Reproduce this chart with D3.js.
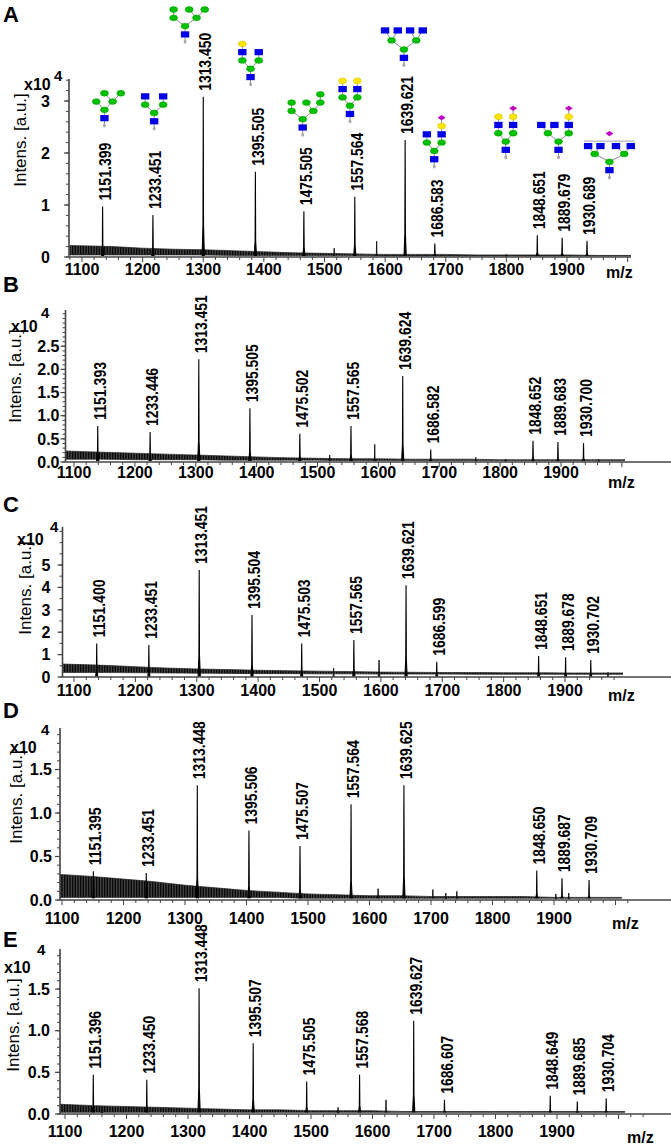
<!DOCTYPE html>
<html>
<head>
<meta charset="utf-8">
<script src="https://cdn.jsdelivr.net/npm/d3@7"></script>
<style>
    body { margin: 0; background: #fff; }
    svg text { font-family: "Liberation Sans", Arial, sans-serif; fill: #000; }
    .peak-label { font-family: "Liberation Sans Narrow", "Arial Narrow", "Liberation Sans", sans-serif; font-size: 17px; font-weight: bold; }
    .tick-label { font-size: 16px; font-weight: bold; }
    .letter { font-size: 22px; font-weight: bold; }
    .ylab { font-size: 17px; }
    .axis line { stroke: #444; }
</style>
</head>
<body>
<svg id="chart" width="671" height="1146"></svg>
<script>
// x tick labels shared by all five spectra
const mzTicks = [1100, 1200, 1300, 1400, 1500, 1600, 1700, 1800, 1900];
// grid for the baseline noise band
const noiseMz = [1080, 1150, 1200, 1250, 1300, 1350, 1400, 1450, 1500, 1550, 1600, 1650, 1700, 1750, 1800, 1850, 1900, 1950, 2010];

// A
const labelsA = ['1151.399', '1233.451', '1313.450', '1395.505', '1475.505', '1557.564', '1639.621', '1686.583', '1848.651', '1889.679', '1930.689'];
const posA = [1134, 1217, 1300, 1386, 1466, 1550, 1633, 1682, 1851, 1892, 1933];
const intA = [0.97, 0.81, 3.08, 1.64, 0.88, 1.16, 2.25, 0.26, 0.42, 0.37, 0.31];
const smallPosA = [1516, 1586, 1800];
const smallIntA = [0.17, 0.3, 0.05];
const noiseHiA = [0.22, 0.2, 0.17, 0.15, 0.14, 0.12, 0.1, 0.08, 0.07, 0.06, 0.05, 0.05, 0.05, 0.04, 0.04, 0.04, 0.04, 0.03, 0.03];
const noiseLoA = [0.04, 0.04, 0.04, 0.04, 0.04, 0.03, 0.03, 0.03, 0.03, 0.03, 0.02, 0.02, 0.02, 0.02, 0.02, 0.02, 0.02, 0.02, 0.02];
const yTicksA = [0, 1, 2, 3];

// B
const labelsB = ['1151.393', '1233.446', '1313.451', '1395.505', '1475.502', '1557.565', '1639.624', '1686.582', '1848.652', '1889.683', '1930.700'];
const posB = [1139, 1225, 1305, 1389, 1471, 1555, 1640, 1686, 1854, 1895, 1937];
const intB = [0.78, 0.65, 2.22, 1.16, 0.61, 0.78, 1.86, 0.27, 0.46, 0.43, 0.41];
const smallPosB = [1520, 1594, 1760, 1809, 1962];
const smallIntB = [0.15, 0.38, 0.1, 0.06, 0.06];
const noiseHiB = [0.24, 0.21, 0.19, 0.17, 0.15, 0.13, 0.11, 0.09, 0.08, 0.07, 0.07, 0.06, 0.06, 0.06, 0.05, 0.05, 0.05, 0.05, 0.05];
const noiseLoB = [0.06, 0.06, 0.05, 0.05, 0.05, 0.04, 0.04, 0.04, 0.04, 0.03, 0.03, 0.03, 0.03, 0.03, 0.03, 0.03, 0.03, 0.03, 0.03];
const yTicksB = [0, 0.5, 1, 1.5, 2, 2.5];

// C
const labelsC = ['1151.400', '1233.451', '1313.451', '1395.504', '1475.503', '1557.565', '1639.621', '1686.599', '1848.651', '1889.678', '1930.702'];
const posC = [1137, 1222, 1304, 1390, 1471, 1556, 1641, 1691, 1857, 1901, 1942];
const intC = [1.5, 1.43, 4.78, 2.77, 1.5, 1.65, 4.1, 0.68, 0.94, 0.88, 0.76];
const smallPosC = [1523, 1597, 1970];
const smallIntC = [0.4, 0.76, 0.2];
const noiseHiC = [0.58, 0.52, 0.46, 0.4, 0.36, 0.33, 0.3, 0.28, 0.26, 0.24, 0.22, 0.21, 0.2, 0.2, 0.19, 0.19, 0.18, 0.18, 0.18];
const noiseLoC = [0.2, 0.2, 0.19, 0.18, 0.17, 0.16, 0.15, 0.15, 0.14, 0.14, 0.13, 0.13, 0.13, 0.12, 0.12, 0.12, 0.12, 0.12, 0.12];
const yTicksC = [0, 1, 2, 3, 4, 5];

// D
const labelsD = ['1151.395', '1233.451', '1313.448', '1395.506', '1475.507', '1557.564', '1639.625', '1848.650', '1889.687', '1930.709'];
const posD = [1151, 1237, 1320, 1404, 1487, 1570, 1656, 1872, 1913, 1957];
const intD = [0.33, 0.31, 1.32, 0.8, 0.62, 1.1, 1.32, 0.34, 0.25, 0.23];
const smallPosD = [1614, 1703, 1724, 1742, 1903, 1924];
const smallIntD = [0.13, 0.12, 0.08, 0.1, 0.07, 0.08];
const noiseHiD = [0.3, 0.27, 0.24, 0.21, 0.17, 0.14, 0.11, 0.09, 0.07, 0.06, 0.05, 0.05, 0.04, 0.04, 0.04, 0.04, 0.03, 0.03, 0.03];
const noiseLoD = [0.03, 0.03, 0.03, 0.03, 0.03, 0.03, 0.03, 0.03, 0.02, 0.02, 0.02, 0.02, 0.02, 0.02, 0.02, 0.02, 0.02, 0.02, 0.02];
const yTicksD = [0, 0.5, 1, 1.5];

// E
const labelsE = ['1151.396', '1233.450', '1313.448', '1395.507', '1475.505', '1557.568', '1639.627', '1686.607', '1848.649', '1889.685', '1930.704'];
const posE = [1146, 1233, 1318, 1406, 1493, 1579, 1667, 1717, 1889, 1933, 1980];
const intE = [0.47, 0.41, 1.51, 0.85, 0.39, 0.47, 1.12, 0.17, 0.22, 0.15, 0.19];
const smallPosE = [1160, 1544, 1622];
const smallIntE = [0.08, 0.08, 0.17];
const noiseHiE = [0.12, 0.1, 0.09, 0.08, 0.07, 0.06, 0.05, 0.05, 0.04, 0.04, 0.04, 0.03, 0.03, 0.03, 0.03, 0.03, 0.03, 0.03, 0.03];
const noiseLoE = [0.02, 0.02, 0.02, 0.02, 0.02, 0.02, 0.02, 0.02, 0.02, 0.02, 0.02, 0.02, 0.02, 0.02, 0.02, 0.02, 0.02, 0.02, 0.02];
const yTicksE = [0, 0.5, 1, 1.5];

// glycan cartoons of panel A: anchor (m/z, intensity) of the core mannose
const glycanMz = [1137, 1219, 1270, 1378, 1464, 1542, 1631, 1681, 1799, 1886, 1970];
const glycanInt = [2.83, 2.77, 4.44, 3.62, 2.65, 2.91, 3.99, 2.04, 2.22, 2.22, 1.83];
// residues: [type, col, row, parent]; R reducing end, G GlcNAc, M Man, L Gal, S NeuAc, K bracket
const stem = [['R', 0, 2, -1], ['G', 0, 1, 0], ['M', 0, 0, 1]];
const glycanShapes = [
    stem.concat([['M', -1, -1, 2], ['M', 1, -1, 2], ['M', 0, -2, 4], ['M', 2, -2, 4]]),
    stem.concat([['M', -1.1, -1, 2], ['M', 1.1, -1, 2], ['G', -1.1, -2, 3], ['G', 1.1, -2, 4]]),
    stem.concat([['M', -1.4, -1, 2], ['M', 1.4, -1, 2], ['M', -1.4, -2, 3], ['M', 0.5, -2, 4], ['M', 2.4, -2, 4]]),
    stem.concat([['M', -1, -1, 2], ['M', 1, -1, 2], ['G', -1, -2, 3], ['G', 1, -2, 4], ['L', -1, -3, 5]]),
    stem.concat([['M', -1.35, -1, 2], ['M', 1.3, -1, 2], ['M', -1.35, -2, 3], ['M', 0.45, -2, 4], ['M', 2.15, -2, 4], ['M', 2.15, -3, 7]]),
    stem.concat([['M', -0.9, -1, 2], ['M', 0.9, -1, 2], ['G', -0.9, -2, 3], ['G', 0.9, -2, 4], ['L', -0.9, -3, 5], ['L', 0.9, -3, 6]]),
    stem.concat([['M', -1.5, -1.1, 2], ['M', 1.5, -1.1, 2], ['G', -2.3, -2.3, 3], ['G', -0.75, -2.3, 3], ['G', 0.75, -2.3, 4], ['G', 2.3, -2.3, 4]]),
    stem.concat([['M', -0.9, -1, 2], ['M', 0.9, -1, 2], ['G', -0.9, -2, 3], ['G', 0.9, -2, 4], ['L', 0.9, -3, 6], ['S', 0.9, -4, 7]]),
    stem.concat([['M', -0.9, -1, 2], ['M', 0.9, -1, 2], ['G', -0.9, -2, 3], ['G', 0.9, -2, 4], ['L', -0.9, -3, 5], ['L', 0.9, -3, 6], ['S', 0.9, -4, 8]]),
    stem.concat([['M', -1.3, -1, 2], ['M', 1.25, -1, 2], ['G', -2.1, -2, 3], ['G', -0.5, -2, 3], ['G', 1.25, -2, 4], ['L', 1.25, -3, 7], ['S', 1.25, -4, 8]]),
    stem.concat([['M', -1.8, -0.95, 2], ['M', 1.8, -0.95, 2], ['G', -2.6, -1.9, 3], ['G', -1.1, -1.9, 3], ['G', 0.8, -1.9, 4], ['G', 2.6, -1.9, 4], ['K', 3.1, -2.5, -1], ['S', 0, -3.4, -1]])
];

// page positions of each spectrum
const layouts = [
    {letter: 'A', letterY: 22, base: 257, unit: 52, top: 79, x1100: 82, x1900: 567, left: 69, tickEnd: 631, lineEnd: 631,
        xLabelY: 275, mzX: 606, mzY: 278, yLabX: 20, yLabY: 140, x10X: 24, x10Y: 90, supX: 54, supY: 81, ytPad: 14, minorY: 0.2, fmt: 'd'},
    {letter: 'B', letterY: 292, base: 462, unit: 46.3, top: 310, x1100: 74, x1900: 561, left: 65.5, tickEnd: 625, lineEnd: 671,
        xLabelY: 478, mzX: 608, mzY: 488, yLabX: 15, yLabY: 376, x10X: 11, x10Y: 332, supX: 41, supY: 318, ytPad: 1, minorY: 0.1, fmt: '.1f'},
    {letter: 'C', letterY: 512, base: 677, unit: 22.4, top: 527, x1100: 74, x1900: 565, left: 62.5, tickEnd: 623, lineEnd: 671,
        xLabelY: 696, mzX: 608, mzY: 701, yLabX: 25, yLabY: 588, x10X: 17, x10Y: 545, supX: 50, supY: 532, ytPad: 7, minorY: 0.5, fmt: 'd'},
    {letter: 'D', letterY: 718, base: 900, unit: 87, top: 728, x1100: 62, x1900: 554, left: 60, tickEnd: 631, lineEnd: 671,
        xLabelY: 924, mzX: 612, mzY: 929, yLabX: 16, yLabY: 797, x10X: 10, x10Y: 753, supX: 41, supY: 735, ytPad: 3, minorY: 0.1, fmt: '.1f'},
    {letter: 'E', letterY: 947, base: 1114, unit: 83.3, top: 949, x1100: 65, x1900: 557, left: 60, tickEnd: 649, lineEnd: 671,
        xLabelY: 1137, mzX: 627, mzY: 1143, yLabX: 13, yLabY: 1025, x10X: 4, x10Y: 973, supX: 37, supY: 955, ytPad: 5, minorY: 0.1, fmt: '.1f'}
];

const spectra = [
    {labels: labelsA, pos: posA, int: intA, smallPos: smallPosA, smallInt: smallIntA, hi: noiseHiA, lo: noiseLoA, yTicks: yTicksA},
    {labels: labelsB, pos: posB, int: intB, smallPos: smallPosB, smallInt: smallIntB, hi: noiseHiB, lo: noiseLoB, yTicks: yTicksB},
    {labels: labelsC, pos: posC, int: intC, smallPos: smallPosC, smallInt: smallIntC, hi: noiseHiC, lo: noiseLoC, yTicks: yTicksC},
    {labels: labelsD, pos: posD, int: intD, smallPos: smallPosD, smallInt: smallIntD, hi: noiseHiD, lo: noiseLoD, yTicks: yTicksD},
    {labels: labelsE, pos: posE, int: intE, smallPos: smallPosE, smallInt: smallIntE, hi: noiseHiE, lo: noiseLoE, yTicks: yTicksE}
];

let svg = d3.select('#chart');

// fine vertical hatching so the noise band reads as a dense trace
let pattern = svg.append('defs').append('pattern')
    .attr('id', 'noise')
    .attr('width', 1.6).attr('height', 4)
    .attr('patternUnits', 'userSpaceOnUse');
pattern.append('rect').attr('width', 1.6).attr('height', 4).attr('fill', '#555');
pattern.append('rect').attr('width', 0.9).attr('height', 4).attr('fill', '#000');

function drawPanel(spec, lay, i) {
    let g = svg.append('g').attr('class', 'panel');

    let x = d3.scaleLinear().domain([1100, 1900]).range([lay.x1100, lay.x1900]);
    let y = d3.scaleLinear().domain([0, 1]).range([lay.base, lay.base - lay.unit]);
    let mzStart = x.invert(lay.left), mzEnd = x.invert(lay.tickEnd);
    let yTop = y.invert(lay.top);

    g.append('clipPath').attr('id', 'clip' + i)
        .append('rect')
        .attr('x', lay.left).attr('y', 0)
        .attr('width', lay.tickEnd - lay.left).attr('height', lay.base + 1);

    // baseline noise band
    let band = d3.area()
        .x((d, k) => x(noiseMz[k]))
        .y0((d, k) => y(spec.lo[k]))
        .y1(d => y(d))
        .curve(d3.curveMonotoneX);
    g.append('path')
        .datum(spec.hi)
        .attr('clip-path', 'url(#clip' + i + ')')
        .attr('d', band)
        .attr('fill', 'url(#noise)')
        .attr('stroke', '#222')
        .attr('stroke-width', 0.7);

    // peaks
    let spike = d3.line().x(d => x(d[0])).y(d => y(d[1]));
    let peakPath = (mz, h, w) => spike([[mz - w, 0.02], [mz - w * 0.25, h * 0.2], [mz, h], [mz + w * 0.25, h * 0.2], [mz + w, 0.02]]);

    g.selectAll('.small-peak')
        .data(spec.smallPos)
        .enter().append('path')
        .attr('class', 'small-peak')
        .attr('d', (d, k) => peakPath(d, spec.smallInt[k], 1.8))
        .attr('fill', '#111')
        .attr('stroke', '#111')
        .attr('stroke-width', 0.9);

    g.selectAll('.peak')
        .data(spec.pos)
        .enter().append('path')
        .attr('class', 'peak')
        .attr('d', (d, k) => peakPath(d, spec.int[k], 1.8))
        .attr('fill', '#000')
        .attr('stroke', '#000')
        .attr('stroke-width', 1.1);

    g.selectAll('.peak-label')
        .data(spec.labels)
        .enter().append('text')
        .attr('class', 'peak-label')
        .attr('transform', (d, k) => 'translate(' + (x(spec.pos[k]) + 2) + ',' + (y(spec.int[k]) - 6) + ') rotate(-90)')
        .attr('dy', '0.36em')
        .attr('textLength', 58)
        .attr('lengthAdjust', 'spacingAndGlyphs')
        .text(d => d);

    // x axis
    let minorX = d3.range(Math.ceil(mzStart / 20) * 20, mzEnd + 0.1, 20);
    let xAxis = g.append('g')
        .attr('class', 'axis')
        .attr('transform', 'translate(0,' + lay.base + ')');
    xAxis.append('line')
        .attr('x1', lay.left).attr('x2', lay.lineEnd)
        .attr('stroke-width', 1.6);
    xAxis.selectAll('.xminor')
        .data(minorX)
        .enter().append('line')
        .attr('class', 'xminor')
        .attr('x1', d => x(d)).attr('x2', d => x(d))
        .attr('y1', 0).attr('y2', d => (d % 100 === 0 ? 5 : 3))
        .attr('stroke-width', 1);
    g.selectAll('.xtick')
        .data(mzTicks)
        .enter().append('text')
        .attr('class', 'tick-label xtick')
        .attr('x', d => x(d))
        .attr('y', lay.xLabelY)
        .attr('text-anchor', 'middle')
        .text(d => d);
    g.append('text')
        .attr('class', 'tick-label')
        .attr('x', lay.mzX)
        .attr('y', lay.mzY)
        .text('m/z');

    // y axis
    let minorYs = d3.range(0, yTop, lay.minorY);
    let yAxis = g.append('g').attr('class', 'axis');
    yAxis.append('line')
        .attr('x1', lay.left).attr('x2', lay.left)
        .attr('y1', lay.base).attr('y2', lay.top)
        .attr('stroke-width', 1.6);
    yAxis.selectAll('.yminor')
        .data(minorYs)
        .enter().append('line')
        .attr('class', 'yminor')
        .attr('x1', lay.left).attr('x2', lay.left - 3)
        .attr('y1', d => y(d)).attr('y2', d => y(d))
        .attr('stroke-width', 1);
    yAxis.selectAll('.ymajor')
        .data(spec.yTicks)
        .enter().append('line')
        .attr('class', 'ymajor')
        .attr('x1', lay.left).attr('x2', lay.left - 5)
        .attr('y1', d => y(d)).attr('y2', d => y(d))
        .attr('stroke-width', 1.2);
    g.selectAll('.ytick')
        .data(spec.yTicks)
        .enter().append('text')
        .attr('class', 'tick-label ytick')
        .attr('x', lay.left - 5 - lay.ytPad)
        .attr('y', d => y(d))
        .attr('dy', '0.36em')
        .attr('text-anchor', 'end')
        .text(d => d3.format(lay.fmt)(d));

    g.append('text')
        .attr('class', 'ylab')
        .attr('transform', 'translate(' + lay.yLabX + ',' + lay.yLabY + ') rotate(-90)')
        .attr('dy', '0.36em')
        .attr('text-anchor', 'middle')
        .text('Intens. [a.u.]');
    g.append('text')
        .attr('class', 'tick-label')
        .attr('x', lay.x10X).attr('y', lay.x10Y)
        .style('font-size', '16px')
        .text('x10');
    g.append('text')
        .attr('class', 'tick-label')
        .attr('x', lay.supX).attr('y', lay.supY)
        .style('font-size', '15px')
        .text('4');
    g.append('text')
        .attr('class', 'letter')
        .attr('x', 3).attr('y', lay.letterY)
        .text(lay.letter);

    return {x: x, y: y};
}

let scalesA = null;
spectra.forEach(function (spec, i) {
    let s = drawPanel(spec, layouts[i], i);
    if (i === 0) scalesA = s;
});

// glycan cartoons
const colW = 8.2, rowH = 8.3;
const fills = {M: '#00c000', G: '#0000e6', L: '#ffe600', S: '#c000c0', R: '#a8a8a8'};

glycanShapes.forEach(function (shape, gi) {
    let cx = scalesA.x(glycanMz[gi]), cy = scalesA.y(glycanInt[gi]);
    let gg = svg.append('g').attr('transform', 'translate(' + cx + ',' + cy + ')');

    gg.selectAll('.link')
        .data(shape.filter(d => d[3] >= 0))
        .enter().append('line')
        .attr('x1', d => d[1] * colW).attr('y1', d => d[2] * rowH)
        .attr('x2', d => shape[d[3]][1] * colW).attr('y2', d => shape[d[3]][2] * rowH)
        .attr('stroke', '#8c8c8c')
        .attr('stroke-width', 1);

    shape.forEach(function (d) {
        let px = d[1] * colW, py = d[2] * rowH;
        if (d[0] === 'M' || d[0] === 'L') {
            gg.append('ellipse')
                .attr('cx', px).attr('cy', py).attr('rx', 4).attr('ry', 2.9)
                .attr('fill', fills[d[0]])
                .attr('stroke', d3.color(fills[d[0]]).darker(0.6)).attr('stroke-width', 0.5);
        } else if (d[0] === 'G') {
            gg.append('rect')
                .attr('x', px - 4.2).attr('y', py - 3.1).attr('width', 8.4).attr('height', 6.2)
                .attr('fill', fills.G);
        } else if (d[0] === 'S') {
            gg.append('path')
                .attr('d', 'M' + (px - 4) + ',' + py + 'L' + px + ',' + (py - 2.6) + 'L' + (px + 4) + ',' + py + 'L' + px + ',' + (py + 2.6) + 'Z')
                .attr('fill', fills.S);
        } else if (d[0] === 'R') {
            gg.append('ellipse')
                .attr('cx', px).attr('cy', py - 1).attr('rx', 1.4).attr('ry', 2)
                .attr('fill', fills.R);
        } else if (d[0] === 'K') {
            gg.append('line')
                .attr('x1', -d[1] * colW).attr('x2', d[1] * colW)
                .attr('y1', py).attr('y2', py)
                .attr('stroke', '#b4b4b4').attr('stroke-width', 1.2);
        }
    });
});
</script>
</body>
</html>
